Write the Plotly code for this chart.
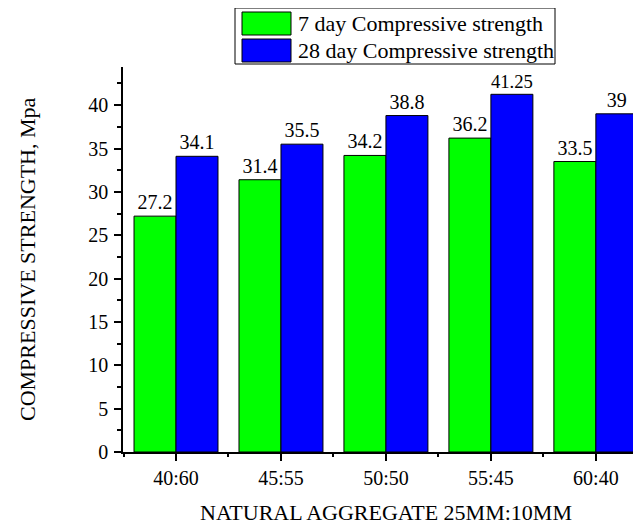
import plotly.graph_objects as go

categories = ["40:60", "45:55", "50:50", "55:45", "60:40"]
day7 = [27.2, 31.4, 34.2, 36.2, 33.5]
day28 = [34.1, 35.5, 38.8, 41.25, 39]
day7_labels = ["27.2", "31.4", "34.2", "36.2", "33.5"]
day28_labels = ["34.1", "35.5", "38.8", "41.25", "39"]
series_names = ["7 day Compressive strength", "28 day Compressive strength"]
series_colors = ["#00ff00", "#0000ff"]
x_title = "NATURAL AGGREGATE 25MM:10MM"
y_title = "COMPRESSIVE STRENGTH, Mpa"

FONT = "Liberation Serif"

# screen geometry of the plot area (page has an 8px body offset)
OFF = 8
W, H = 641 - OFF, 524 - OFF
PX0, PX1, PY0, PY1 = 123, 641, 67, 452   # left, right, top, bottom (screen px)
PW, PH = PX1 - PX0, PY1 - PY0


def px(x):
    return (x - PX0) / PW


def py(y):
    return (PY1 - y) / PH


fig = go.Figure()
for vals, labels, name, color in [(day7, day7_labels, series_names[0], series_colors[0]),
                                  (day28, day28_labels, series_names[1], series_colors[1])]:
    fig.add_trace(go.Bar(x=categories, y=vals, name=name, marker_color=color,
                         marker_line=dict(color="black", width=1), text=labels,
                         textposition="outside", textfont=dict(family=FONT, size=20, color="black"),
                         cliponaxis=False, showlegend=False))

# invisible trace hosting the boundary (minor) ticks axis
fig.add_trace(go.Scatter(x=categories, y=day7, xaxis="x2", mode="markers",
                         marker=dict(opacity=0), showlegend=False, hoverinfo="skip"))

xr = [-0.505, 4.43]
fig.update_layout(
    width=W, height=H,
    margin=dict(l=PX0 - OFF, r=W - (PX1 - OFF), t=PY0 - OFF, b=H - (PY1 - OFF)),
    paper_bgcolor="white", plot_bgcolor="white",
    barmode="group", bargap=0.2, bargroupgap=0,
    font=dict(family=FONT, size=20, color="black"),
    xaxis=dict(type="category", range=xr, showline=True, linecolor="black", linewidth=1.5,
               ticks="outside", ticklen=7, tickwidth=1.5, tickcolor="black", automargin=False,
               tickfont=dict(family=FONT, size=20), showgrid=False, zeroline=False,
               ticklabelstandoff=0),
    xaxis2=dict(type="category", range=xr, overlaying="x", anchor="y", side="bottom",
                tickson="boundaries", ticks="outside", ticklen=4, tickwidth=1.5, automargin=False,
                tickcolor="black", showticklabels=False, showgrid=False, showline=False,
                zeroline=False),
    yaxis=dict(range=[0, 44.4], dtick=5, tick0=0, showline=True, linecolor="black", linewidth=1.5,
               ticks="outside", ticklen=7, tickwidth=1.5, tickcolor="black", automargin=False,
               tickfont=dict(family=FONT, size=20), showgrid=False, zeroline=False,
               ticklabelstandoff=2,
               minor=dict(dtick=2.5, ticks="outside", ticklen=4, tickwidth=1.5, tickcolor="black")),
)

annotations = [
    dict(xref="paper", yref="paper", x=px(386), y=py(512), text=x_title, showarrow=False,
         xanchor="center", yanchor="middle", font=dict(family=FONT, size=22, color="black")),
    dict(xref="paper", yref="paper", x=px(27), y=py(259), text=y_title, showarrow=False,
         textangle=-90, xanchor="center", yanchor="middle",
         font=dict(family=FONT, size=22, color="black")),
]

# custom legend with large swatches
shapes = [dict(type="rect", xref="paper", yref="paper",
               x0=px(235), x1=px(555), y0=py(64), y1=py(8),
               line=dict(color="black", width=1), fillcolor="white")]
rows = [(12, 35), (39, 62)]
for (ytop, ybot), name, color in zip(rows, series_names, series_colors):
    shapes.append(dict(type="rect", xref="paper", yref="paper",
                       x0=px(242), x1=px(291), y0=py(ybot), y1=py(ytop),
                       line=dict(color="black", width=1), fillcolor=color))
    annotations.append(dict(xref="paper", yref="paper", x=px(296),
                            y=py((ytop + ybot) / 2), text=name, showarrow=False,
                            xanchor="left", yanchor="middle",
                            font=dict(family=FONT, size=22, color="black")))
fig.update_layout(shapes=shapes, annotations=annotations)

fig.write_html("out.html")
